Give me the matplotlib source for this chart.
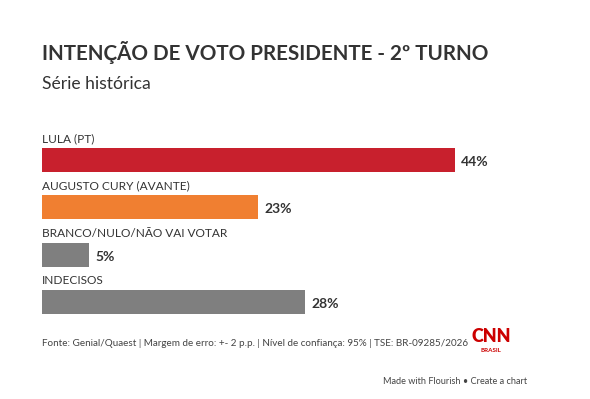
import matplotlib.pyplot as plt

# dados
categorias = ["LULA (PT)", "AUGUSTO CURY (AVANTE)", "BRANCO/NULO/NÃO VAI VOTAR", "INDECISOS"]
valores = [44, 23, 5, 28]
cores = ["#c8202d", "#f07f31", "#7f7f7f", "#7f7f7f"]
rotulos = ["44%", "23%", "5%", "28%"]

W, H = 590, 399
FONT = "Lato"
TXT = "#333333"

fig = plt.figure(figsize=(W / 100, H / 100), dpi=100)
fig.patch.set_facecolor("white")


def px(x, y):
    return x / W, 1 - y / H


# eixo das barras (em pixels: x 42 -> 511, y 148 -> 314)
ax = fig.add_axes([42 / W, 1 - 314 / H, (511 - 42) / W, (314 - 148) / H])
y = list(range(len(categorias)))
ax.barh(y, valores, height=0.507, color=cores)
ax.set_xlim(0, 50)
ax.set_ylim(3.2535, -0.2535)
ax.axis("off")

for i, (c, v, r) in enumerate(zip(categorias, valores, rotulos)):
    ax.text(0, i - 0.33, c, fontsize=8.6, family=FONT, color=TXT, va="bottom", ha="left")
    ax.text(v + 0.7, i + 0.04, r, fontsize=10, family=FONT, fontweight="bold",
            color=TXT, va="center", ha="left")

# titulos
fig.text(*px(42, 53), "INTENÇÃO DE VOTO PRESIDENTE - 2º TURNO", fontsize=14.9,
         family=FONT, fontweight="bold", color=TXT, va="center", ha="left")
fig.text(*px(42, 84), "Série histórica", fontsize=12.6, family=FONT, color=TXT,
         va="center", ha="left")

# rodape
fig.text(*px(42, 343), "Fonte: Genial/Quaest | Margem de erro: +- 2 p.p. | Nível de confiança: 95% | TSE: BR-09285/2026",
         fontsize=7.1, family=FONT, color="#444444", va="center", ha="left")
fig.text(*px(491, 337), "CNN", fontsize=13, family=FONT, fontweight="heavy",
         color="#cc0000", va="center", ha="center")
fig.text(*px(491, 350), "BRASIL", fontsize=4.5, family=FONT, fontweight="bold",
         color="#cc0000", va="center", ha="center")
fig.text(*px(527, 381), "Made with Flourish • Create a chart", fontsize=6.6,
         family=FONT, color="#444444", va="center", ha="right")

fig.savefig("out.png", dpi=100)
